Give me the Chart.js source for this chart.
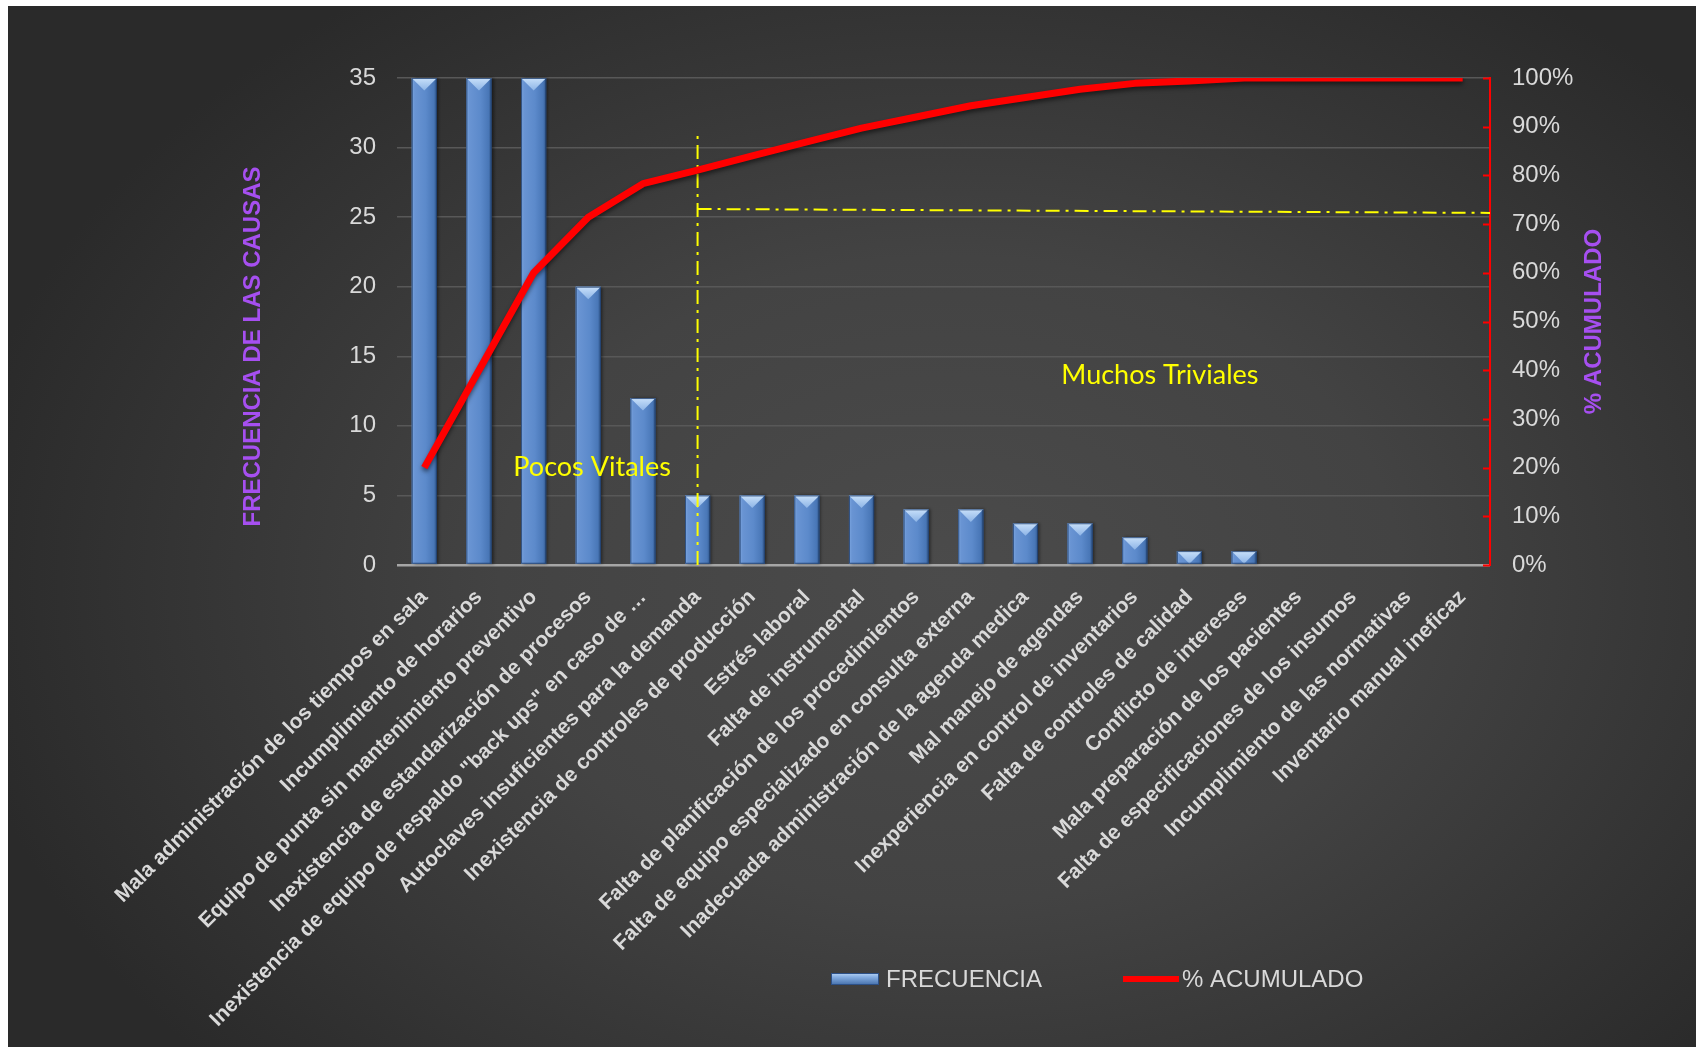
<!DOCTYPE html>
<html lang="es">
<head>
<meta charset="utf-8">
<title>Diagrama de Pareto - Causas</title>
<script src="https://cdn.jsdelivr.net/npm/chart.js@4.4.1/dist/chart.umd.min.js"></script>
<style>
  html, body { margin: 0; padding: 0; background: #fff; }
  canvas { display: block; }
</style>
</head>
<body>
<canvas id="pareto" width="1696" height="1047"></canvas>
<script>
// Causas ordenadas de mayor a menor frecuencia
const causas = [
    'Mala administración de los tiempos en sala',
    'Incumplimiento de horarios',
    'Equipo de punta sin mantenimiento preventivo',
    'Inexistencia de estandarización de procesos',
    'Inexistencia de equipo de respaldo "back ups" en caso de …',
    'Autoclaves insuficientes para la demanda',
    'Inexistencia de controles de producción',
    'Estrés laboral',
    'Falta de instrumental',
    'Falta de planificación de los procedimientos',
    'Falta de equipo especializado en consulta externa',
    'Inadecuada administración de la agenda medica',
    'Mal manejo de agendas',
    'Inexperiencia en control de inventarios',
    'Falta de controles de calidad',
    'Conflicto de intereses',
    'Mala preparación de los pacientes',
    'Falta de especificaciones de los insumos',
    'Incumplimiento de las normativas',
    'Inventario manual ineficaz'
];

const frecuencia = [35, 35, 35, 20, 12, 5, 5, 5, 5, 4, 4, 3, 3, 2, 1, 1, 0, 0, 0, 0];

const acumulado = [20, 40, 60, 71.4, 78.3, 81.1, 84.0, 86.9, 89.7, 92.0,
                   94.3, 96.0, 97.7, 98.9, 99.4, 100, 100, 100, 100, 100];

const ticksFrecuencia = [0, 5, 10, 15, 20, 25, 30, 35];
const ticksAcumulado = [0, 10, 20, 30, 40, 50, 60, 70, 80, 90, 100];

// Linea de corte 80/20 (en unidades de los ejes)
const corte = { indice: 5, topePct: 89, umbralInicio: 73.1, umbralFin: 72.3 };

const zonas = [
    { texto: 'Pocos Vitales', indice: 3.07, valor: 7 },
    { texto: 'Muchos Triviales', indice: 13.46, valor: 13.6 }
];

const FUENTE = "'Liberation Sans', Arial, sans-serif";
const GRIS_TEXTO = '#d9d9d9';
const MORADO = '#a64ff0';

Chart.defaults.font.family = FUENTE;

// Fondo oscuro con degradado radial y marco blanco
const fondo = {
    id: 'fondo',
    beforeDraw(chart) {
        const { ctx, width, height } = chart;
        ctx.save();
        ctx.fillStyle = '#ffffff';
        ctx.fillRect(0, 0, width, height);
        ctx.beginPath();
        ctx.rect(8, 6, width - 8, height - 6);
        ctx.clip();
        ctx.translate(950, 580);
        ctx.scale(1, 0.72);
        const g = ctx.createRadialGradient(0, 0, 0, 0, 0, 1000);
        g.addColorStop(0, '#4b4b4b');
        g.addColorStop(0.45, '#434343');
        g.addColorStop(1, '#2a2a2a');
        ctx.fillStyle = g;
        ctx.fillRect(-3000, -3000, 6000, 6000);
        ctx.restore();
    }
};

function dashDot(ctx, x1, y1, x2, y2) {
    ctx.save();
    ctx.strokeStyle = '#ffff00';
    ctx.lineWidth = 2;
    ctx.setLineDash([14, 6, 3, 6]);
    ctx.beginPath();
    ctx.moveTo(x1, y1);
    ctx.lineTo(x2, y2);
    ctx.stroke();
    ctx.restore();
}

// Barras con bisel, linea de corte y rotulos de zona (sobre las barras, bajo la curva)
const barrasYCorte = {
    id: 'barrasYCorte',
    afterDatasetDraw(chart, args) {
        if (args.index !== 0) return;
        const { ctx } = chart;
        const meta = chart.getDatasetMeta(0);

        meta.data.forEach(bar => {
            const { x, y, base, width } = bar.getProps(['x', 'y', 'base', 'width'], true);
            if (base - y < 1) return;
            const l = x - width / 2;
            const r = x + width / 2;
            ctx.save();
            ctx.shadowColor = 'rgba(0,0,0,0.45)';
            ctx.shadowOffsetX = 2;
            ctx.shadowBlur = 3;
            const cara = ctx.createLinearGradient(l, 0, r, 0);
            cara.addColorStop(0, '#7ca6e0');
            cara.addColorStop(0.12, '#6994d3');
            cara.addColorStop(0.55, '#5c8acb');
            cara.addColorStop(0.88, '#4977b7');
            cara.addColorStop(1, '#2f5487');
            ctx.fillStyle = cara;
            ctx.fillRect(l, y, width, base - y);
            ctx.restore();

            // faceta superior
            const h = Math.min(width * 0.5, base - y);
            const tapa = ctx.createLinearGradient(0, y, 0, y + h);
            tapa.addColorStop(0, '#c8e0fa');
            tapa.addColorStop(1, '#8db4e6');
            ctx.fillStyle = tapa;
            ctx.beginPath();
            ctx.moveTo(l, y);
            ctx.lineTo(r, y);
            ctx.lineTo(x, y + h);
            ctx.closePath();
            ctx.fill();

            ctx.strokeStyle = 'rgba(30,60,105,0.8)';
            ctx.lineWidth = 1;
            ctx.strokeRect(l + 0.5, y + 0.5, width - 1, base - y - 1);
        });

        const xs = chart.scales.x;
        const y1 = chart.scales.y1;
        const ys = chart.scales.y;
        const cx = xs.getPixelForValue(corte.indice);
        dashDot(ctx, cx, ys.getPixelForValue(0), cx, y1.getPixelForValue(corte.topePct));
        dashDot(ctx, cx, y1.getPixelForValue(corte.umbralInicio),
                xs.getPixelForValue(causas.length - 0.5), y1.getPixelForValue(corte.umbralFin));

        ctx.save();
        ctx.fillStyle = '#ffff00';
        ctx.font = "27px Lato, 'Open Sans', sans-serif";
        ctx.textAlign = 'center';
        ctx.textBaseline = 'middle';
        zonas.forEach(z => {
            ctx.fillText(z.texto, xs.getPixelForValue(z.indice), ys.getPixelForValue(z.valor));
        });
        ctx.restore();
    }
};

// Sombra suave bajo la curva acumulada
const sombraLinea = {
    id: 'sombraLinea',
    beforeDatasetDraw(chart, args) {
        if (args.index !== 1) return;
        chart.ctx.save();
        chart.ctx.shadowColor = 'rgba(0,0,0,0.5)';
        chart.ctx.shadowOffsetY = 3;
        chart.ctx.shadowBlur = 4;
    },
    afterDatasetDraw(chart, args) {
        if (args.index !== 1) return;
        chart.ctx.restore();
    }
};

// Titulos de ejes, marcas del eje derecho y leyenda
const extras = {
    id: 'extras',
    afterDraw(chart) {
        const { ctx, chartArea } = chart;
        const ys = chart.scales.y;
        const y1 = chart.scales.y1;

        ctx.save();
        ctx.strokeStyle = '#ff0000';
        ctx.lineWidth = 2;
        ticksAcumulado.forEach(v => {
            const py = Math.round(y1.getPixelForValue(v)) + 0.5;
            ctx.beginPath();
            ctx.moveTo(y1.left - 7, py);
            ctx.lineTo(y1.left, py);
            ctx.stroke();
        });
        ctx.restore();

        const midY = (chartArea.top + chartArea.bottom) / 2;
        ctx.save();
        ctx.fillStyle = MORADO;
        ctx.font = 'bold 24px ' + FUENTE;
        ctx.textAlign = 'center';
        ctx.textBaseline = 'middle';
        ctx.translate(ys.left + 253, midY + 25);
        ctx.rotate(-Math.PI / 2);
        ctx.fillText('FRECUENCIA DE LAS CAUSAS', 0, 0);
        ctx.restore();

        ctx.save();
        ctx.fillStyle = MORADO;
        ctx.font = 'bold 24px ' + FUENTE;
        ctx.textAlign = 'center';
        ctx.textBaseline = 'middle';
        ctx.translate(y1.left + 104, midY);
        ctx.rotate(-Math.PI / 2);
        ctx.fillText('% ACUMULADO', 0, 0);
        ctx.restore();

        // Leyenda
        const ly = 979;
        const barSet = chart.data.datasets[0];
        const lineSet = chart.data.datasets[1];
        ctx.save();
        const g = ctx.createLinearGradient(0, ly - 7, 0, ly + 7);
        g.addColorStop(0, '#c5ddf8');
        g.addColorStop(0.35, '#86afe3');
        g.addColorStop(1, '#3c67a3');
        ctx.fillStyle = g;
        ctx.fillRect(831, ly - 6, 48, 12);
        ctx.strokeStyle = '#2d5188';
        ctx.lineWidth = 1;
        ctx.strokeRect(831.5, ly - 5.5, 47, 11);

        ctx.fillStyle = '#ff0000';
        ctx.fillRect(1123, ly - 3, 56, 6);

        ctx.fillStyle = GRIS_TEXTO;
        ctx.font = '24px ' + FUENTE;
        ctx.textBaseline = 'middle';
        ctx.fillText(barSet.label, 886, ly + 1);
        ctx.fillText(lineSet.label, 1182, ly + 1);
        ctx.restore();
    }
};

new Chart(document.getElementById('pareto'), {
    data: {
        labels: causas,
        datasets: [
            {
                type: 'bar',
                label: 'FRECUENCIA',
                data: frecuencia,
                yAxisID: 'y',
                backgroundColor: '#5d89c8',
                borderWidth: 0,
                barPercentage: 0.46,
                categoryPercentage: 1,
                order: 1
            },
            {
                type: 'line',
                label: '% ACUMULADO',
                data: acumulado,
                yAxisID: 'y1',
                borderColor: '#ff0000',
                borderWidth: 7,
                borderJoinStyle: 'round',
                pointRadius: 0,
                tension: 0,
                fill: false,
                order: 0
            }
        ]
    },
    options: {
        responsive: false,
        animation: false,
        devicePixelRatio: 1,
        layout: { padding: { top: 78, left: 0, right: 0, bottom: 0 } },
        plugins: {
            legend: { display: false },
            tooltip: { enabled: false }
        },
        scales: {
            x: {
                offset: true,
                grid: { display: false, drawTicks: false },
                border: { display: false },
                ticks: {
                    autoSkip: false,
                    minRotation: 45,
                    maxRotation: 45,
                    padding: 20,
                    color: GRIS_TEXTO,
                    font: { size: 21, weight: 'bold' }
                },
                afterFit: s => { s.height = 1047 - 565; }
            },
            y: {
                position: 'left',
                min: 0,
                max: 35,
                afterBuildTicks: s => { s.ticks = ticksFrecuencia.map(v => ({ value: v })); },
                grid: {
                    drawTicks: false,
                    color: c => c.tick.value === 0 ? '#a6a6a6' : '#585858',
                    lineWidth: c => c.tick.value === 0 ? 2.5 : 1.5
                },
                border: { display: false },
                ticks: { padding: 21, color: GRIS_TEXTO, font: { size: 24 } },
                afterFit: s => { s.width = 397; }
            },
            y1: {
                position: 'right',
                min: 0,
                max: 100,
                afterBuildTicks: s => { s.ticks = ticksAcumulado.map(v => ({ value: v })); },
                grid: { drawOnChartArea: false, drawTicks: false },
                border: { color: '#ff0000', width: 2 },
                ticks: {
                    padding: 22,
                    color: GRIS_TEXTO,
                    font: { size: 24 },
                    callback: v => v + '%'
                },
                afterFit: s => { s.width = 1696 - 1490; }
            }
        }
    },
    plugins: [fondo, barrasYCorte, sombraLinea, extras]
});
</script>
</body>
</html>
